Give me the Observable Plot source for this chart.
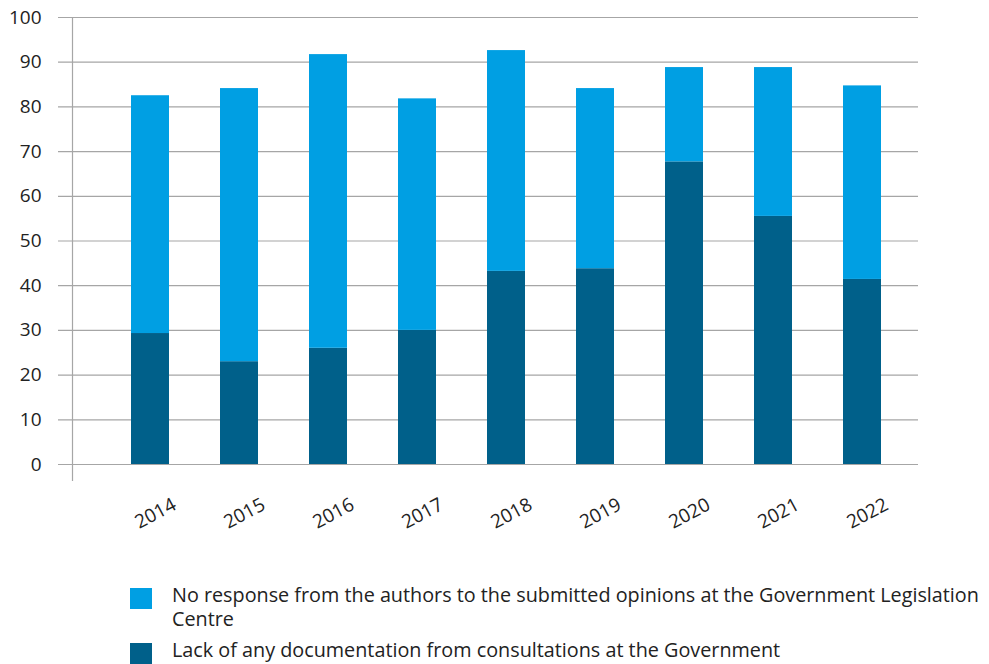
<!DOCTYPE html>
<html>
<head>
<meta charset="utf-8">
<script src="https://cdn.jsdelivr.net/npm/d3@7"></script>
<script src="https://cdn.jsdelivr.net/npm/@observablehq/plot@0.6"></script>
<style>
  body { margin: 0; background: #fff; font-family: "Open Sans", sans-serif; }
  #chart svg { display: block; }
  .legend { margin: 23px 0 0 130px; width: 858px; color: #222; font-size: 19.8px; line-height: 24px; }
  .legend .item { display: flex; align-items: flex-start; margin-bottom: 7px; }
  .legend .swatch { flex: none; width: 22px; height: 21px; margin-right: 20px; margin-top: 5px; }
</style>
</head>
<body>
<div id="chart"></div>
<div class="legend" id="legend"></div>
<script>
// Years on the category axis
const years = ["2014", "2015", "2016", "2017", "2018", "2019", "2020", "2021", "2022"];
// Lower segment: bills with no documentation from consultations at the Government
const noDocumentation = [29.3, 23.0, 26.0, 30.0, 43.2, 43.8, 67.7, 55.5, 41.4];
// Upper segment: no response from the authors at the Government Legislation Centre
const noResponse = [53.2, 61.1, 65.7, 51.8, 49.4, 40.3, 21.1, 33.3, 43.3];
// Y axis ticks
const yTicks = [0, 10, 20, 30, 40, 50, 60, 70, 80, 90, 100];

const seriesNames = [
  "Lack of any documentation from consultations at the Government",
  "No response from the authors to the submitted opinions at the Government Legislation Centre"
];
const seriesColors = ["#00608a", "#009fe3"];

const rows = [];
years.forEach((year, i) => {
  rows.push({year, series: seriesNames[0], value: noDocumentation[i]});
  rows.push({year, series: seriesNames[1], value: noResponse[i]});
});

const chart = Plot.plot({
  width: 989,
  height: 560,
  marginTop: 17,
  marginLeft: 72,
  marginRight: 71,
  marginBottom: 80,
  style: {fontFamily: "Open Sans, sans-serif", fontSize: "19px", color: "#222"},
  x: {domain: years, paddingInner: 0.574, paddingOuter: 0.527, align: 0.617, label: null},
  y: {domain: [0, 100], insetBottom: 16, label: null},
  color: {domain: seriesNames, range: seriesColors},
  marks: [
    Plot.ruleY(yTicks, {stroke: "#a6a6a6", strokeWidth: 1.2, insetLeft: -14}),
    Plot.barY(rows, {x: "year", y: "value", fill: "series", order: seriesNames}),
    Plot.frame({anchor: "left", stroke: "#a6a6a6", strokeWidth: 1.2}),
    Plot.axisY({ticks: yTicks, tickSize: 0, tickPadding: 31, label: null, fill: "#222"}),
    Plot.axisX({tickSize: 0, tickPadding: 33, tickRotate: -28, textAnchor: "middle", dx: 5, label: null, fill: "#222"})
  ]
});
document.getElementById("chart").appendChild(chart);

// Legend: lighter series first
const legend = d3.select("#legend");
[1, 0].forEach(k => {
  const item = legend.append("div").attr("class", "item");
  item.append("div").attr("class", "swatch").style("background", seriesColors[k]);
  item.append("div").text(seriesNames[k]);
});
</script>
</body>
</html>
